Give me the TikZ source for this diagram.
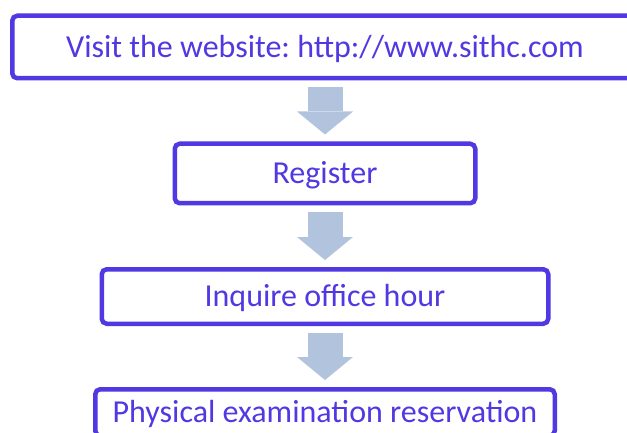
\documentclass[tikz,border=0pt]{standalone}
\usepackage{fontspec}
\setmainfont{Carlito}
\usetikzlibrary{arrows.meta,positioning}
\definecolor{boxblue}{RGB}{80,56,226}
\definecolor{arrowblue}{RGB}{178,195,221}
\frenchspacing

\begin{document}
\begin{tikzpicture}[x=1pt,y=1pt,
                main box/.style={draw=boxblue,line width=4.5pt,rounded corners=5pt,fill=white,
                  text=boxblue,font=\fontsize{32}{38}\selectfont,inner sep=0pt,
                  text height=20.2pt,text depth=0pt},
                flow arrow/.style={arrowblue,line width=35pt,
                  -{Triangle[width=56pt,length=23pt,line width=0pt]},shorten <=7pt,shorten >=7pt}]

      \path[use as bounding box] (0,0) rectangle (627,-433);

      \node[main box, minimum width=625.5pt, minimum height=62.5pt] (visit) at (325,-47) {Visit the website: http://www.sithc.com};
      \node[main box, minimum width=300.5pt, minimum height=59.5pt] (reg) at (325,-173.5) {Register};
      \node[main box, minimum width=446.5pt, minimum height=54.5pt] (inquire) at (325,-296.5) {Inquire office hour};
      \node[main box, minimum width=459.5pt, minimum height=46.5pt] (phys) at (325,-412.5) {Physical examination reservation};
      \draw[flow arrow] (visit) -- (reg);
      \draw[flow arrow] (reg) -- (inquire);
      \draw[flow arrow] (inquire) -- (phys);
  \end{tikzpicture}
\end{document}
